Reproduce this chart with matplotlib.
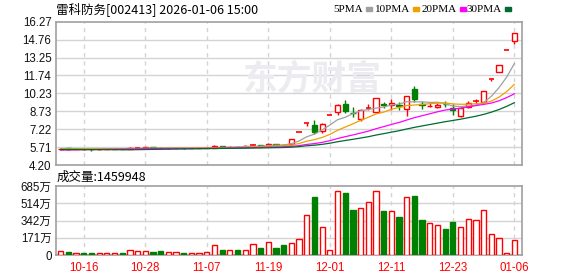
import numpy as np
import matplotlib
matplotlib.use("Agg")
import matplotlib.pyplot as plt

plt.rcParams['font.family'] = ['Liberation Sans', 'Noto Sans CJK SC', 'DejaVu Sans']

dates = ['10-13', '10-14', '10-15', '10-16', '10-17', '10-20', '10-21', '10-22', '10-23', '10-24',
         '10-27', '10-28', '10-29', '10-30', '10-31', '11-03', '11-04', '11-05', '11-06', '11-07',
         '11-10', '11-11', '11-12', '11-13', '11-14', '11-17', '11-18', '11-19', '11-20', '11-21',
         '11-24', '11-25', '11-26', '11-27', '11-28', '12-01', '12-02', '12-03', '12-04', '12-05',
         '12-08', '12-09', '12-10', '12-11', '12-12', '12-15', '12-16', '12-17', '12-18', '12-19',
         '12-22', '12-23', '12-24', '12-25', '12-26', '12-29', '12-30', '12-31', '01-05', '01-06']

opens = [5.52, 5.60, 5.55, 5.58, 5.56, 5.52, 5.54, 5.56, 5.57, 5.54,
         5.64, 5.60, 5.70, 5.66, 5.60, 5.61, 5.63, 5.60, 5.62, 5.63,
         5.66, 5.80, 5.70, 5.74, 5.72, 5.85, 5.88, 5.83, 5.96, 5.92,
         5.93, 7.01, 7.71, 7.57, 7.03, 8.43, 8.68, 9.34, 8.62, 8.08,
         8.98, 8.69, 9.30, 9.23, 9.25, 8.90, 10.58, 9.30, 9.15, 9.12,
         9.36, 9.03, 8.36, 9.06, 9.58, 9.54, 11.48, 12.07, 13.89, 14.65]
highs = [5.62, 5.66, 5.60, 5.65, 5.58, 5.57, 5.58, 5.59, 5.58, 5.70,
         5.72, 5.72, 5.74, 5.68, 5.64, 5.65, 5.64, 5.64, 5.66, 5.68,
         5.92, 5.84, 5.76, 5.78, 5.86, 5.98, 5.92, 6.02, 5.98, 5.98,
         6.42, 7.01, 7.71, 7.99, 7.70, 8.43, 9.30, 9.68, 9.05, 8.90,
         9.34, 9.85, 9.54, 9.76, 9.54, 10.05, 10.86, 9.60, 9.54, 9.40,
         9.60, 9.31, 9.06, 9.60, 9.76, 10.47, 11.48, 12.65, 13.89, 15.28]
lows = [5.48, 5.50, 5.52, 5.50, 5.40, 5.50, 5.53, 5.54, 5.52, 5.53,
        5.58, 5.58, 5.64, 5.58, 5.58, 5.59, 5.58, 5.59, 5.60, 5.61,
        5.64, 5.68, 5.66, 5.68, 5.70, 5.78, 5.80, 5.80, 5.86, 5.84,
        5.90, 7.01, 7.52, 6.81, 6.90, 8.43, 8.43, 8.60, 8.27, 7.93,
        8.84, 8.65, 9.03, 8.84, 8.84, 8.33, 9.50, 8.90, 9.06, 8.98,
        9.12, 8.41, 8.27, 8.98, 9.34, 9.50, 11.30, 12.00, 13.89, 14.37]
closes = [5.58, 5.57, 5.58, 5.56, 5.52, 5.55, 5.57, 5.57, 5.54, 5.62,
          5.64, 5.70, 5.66, 5.60, 5.62, 5.63, 5.60, 5.62, 5.64, 5.66,
          5.80, 5.70, 5.73, 5.72, 5.82, 5.85, 5.83, 5.96, 5.90, 5.90,
          6.37, 7.01, 7.71, 7.01, 7.66, 8.43, 9.25, 8.75, 8.55, 8.84,
          8.98, 9.82, 9.24, 9.40, 9.18, 10.02, 9.74, 9.24, 9.18, 9.26,
          9.32, 8.84, 8.98, 9.45, 9.58, 10.44, 11.48, 12.63, 13.89, 15.28]
# 成交量, 单位: 万
volumes = [40, 33, 20, 20, 20, 20, 20, 20, 20, 46,
           40, 40, 30, 40, 27, 27, 20, 20, 20, 30,
           96, 50, 50, 50, 50, 106, 70, 129, 70, 99,
           119, 155, 397, 576, 275, 46, 635, 615, 447, 463,
           523, 635, 437, 437, 377, 572, 585, 347, 314, 295,
           255, 328, 275, 354, 344, 443, 205, 166, 20, 146]
# 前29个交易日收盘价, 只用于计算均线
pre_closes = [5.66, 5.64, 5.67, 5.63, 5.65, 5.68, 5.62, 5.64, 5.61,
              5.42, 5.36, 5.33, 5.30, 5.34, 5.31, 5.35, 5.38, 5.36, 5.40,
              5.45, 5.50, 5.53, 5.52, 5.56, 5.55, 5.58, 5.54, 5.57, 5.55]

price_ticks = [4.20, 5.71, 7.22, 8.73, 10.23, 11.74, 13.25, 14.76, 16.27]
vol_ticks = [0, 171, 342, 514, 685]
date_labels = ['10-16', '10-28', '11-07', '11-19', '12-01', '12-11', '12-23', '01-06']
ma_periods = [5, 10, 20, 30]
ma_colors = ['#a0a0a0', '#f0a000', '#ff00ff', '#006a30']

RED = '#ff0000'
GREEN = '#008000'
GRID = '#d4d4d4'
SPINE = '#a0a0a0'
W, H = 578, 276


def moving_average(n):
    allc = np.array(pre_closes + closes)
    ma = np.convolve(allc, np.ones(n) / n, mode='valid')
    return ma[-len(closes):]


def up_flags():
    flags = []
    for i, (o, c) in enumerate(zip(opens, closes)):
        if c != o:
            flags.append(c > o)
        else:
            prev = closes[i - 1] if i > 0 else pre_closes[-1]
            flags.append(c >= prev)
    return flags


def style_axes(ax):
    for s in ax.spines.values():
        s.set_color(SPINE)
        s.set_linewidth(1.2)
    ax.tick_params(length=0, labelsize=8.3, colors='#111111')
    ax.set_xlim(-0.65, 60.03)
    for d in date_labels:
        ax.axvline(dates.index(d), color=GRID, lw=1, ls=(0, (3, 3)), zorder=0)


def main():
    fig = plt.figure(figsize=(W / 100, H / 100), dpi=100)
    ax = fig.add_axes([55.7 / W, 1 - 165 / H, 466.6 / W, 143.3 / H])
    axv = fig.add_axes([55.7 / W, 1 - 255 / H, 466.6 / W, 69 / H])

    xs = np.arange(len(dates))
    up = up_flags()
    bw = 0.68

    # 价格区
    style_axes(ax)
    ax.set_ylim(price_ticks[0], price_ticks[-1])
    ax.set_yticks(price_ticks)
    ax.set_yticklabels([f"{t:.2f}" for t in price_ticks])
    ax.set_xticks([])
    ax.tick_params(axis='y', pad=3)
    for t in price_ticks[1:-1]:
        ax.axhline(t, color=GRID, lw=1, zorder=0)

    ax.text(0.55, 0.6, '东方财富', transform=ax.transAxes, ha='center', va='center',
            fontsize=25, fontweight='bold', color='#ececf0', family=['Noto Sans CJK SC'], zorder=0)

    for i in xs:
        o, h, l, c = opens[i], highs[i], lows[i], closes[i]
        col = RED if up[i] else GREEN
        ax.vlines(i, l, h, color=col, lw=1, zorder=2)
        if abs(c - o) < 1e-9:
            ax.hlines(c, i - bw / 2, i + bw / 2, color=col, lw=1.2, zorder=3)
        else:
            ax.bar(i, abs(c - o), bottom=min(o, c), width=bw,
                   facecolor='white' if up[i] else GREEN, edgecolor=col, lw=1, zorder=3)

    for n, col in zip(ma_periods, ma_colors):
        ax.plot(xs, moving_average(n), color=col, lw=0.9, zorder=4)

    # 成交量区
    style_axes(axv)
    axv.set_ylim(0, 685)
    axv.set_yticks(vol_ticks)
    axv.set_yticklabels(['0'] + [f"{t}万" for t in vol_ticks[1:]])
    axv.tick_params(axis='y', pad=3)
    for t in vol_ticks[1:-1]:
        axv.axhline(t, color=GRID, lw=1, zorder=0)
    axv.bar(xs, volumes, width=bw,
            facecolor=['white' if u else GREEN for u in up],
            edgecolor=[RED if u else GREEN for u in up], lw=1, zorder=3)
    axv.set_xticks([dates.index(d) for d in date_labels])
    axv.set_xticklabels(date_labels, color=RED, fontsize=8.3)
    axv.tick_params(axis='x', pad=5)

    # 标题与图例
    fig.text(56 / W, 1 - 9 / H, '雷科防务[002413] 2026-01-06 15:00', ha='left', va='center',
             fontsize=9, family=['Noto Sans CJK SC', 'DejaVu Sans'])
    fig.text(57 / W, 1 - 177 / H, '成交量:1459948', ha='left', va='center',
             fontsize=9, family=['Noto Sans CJK SC', 'DejaVu Sans'])
    swatch_x = [366, 413, 460, 505]
    for n, col, sx in zip(ma_periods, ma_colors, swatch_x):
        fig.text((sx - 3) / W, 1 - 9 / H, f"{n}PMA", ha='right', va='center', fontsize=8,
                 family=['Liberation Serif'])
        fig.patches.append(plt.Rectangle((sx / W, 1 - 11 / H), 6 / W, 4 / H,
                                         transform=fig.transFigure, color=col, figure=fig))

    fig.savefig('out.png', dpi=100)
    plt.close(fig)


if __name__ == "__main__":
    main()
